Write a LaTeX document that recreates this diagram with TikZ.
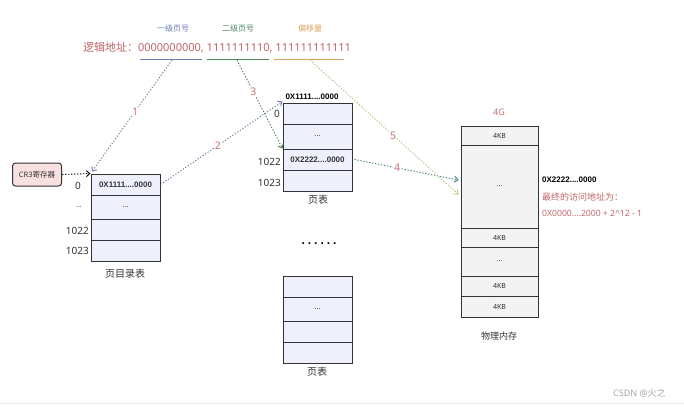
\documentclass[tikz,border=0pt]{standalone}
\usepackage{fontspec}
\setmainfont{Noto Sans}
\newfontfamily\cjk{Noto Sans CJK SC}
\newfontfamily\bsans{Liberation Sans}
\usetikzlibrary{arrows.meta}
\definecolor{addrred}{HTML}{C0666A}
\definecolor{numred}{HTML}{C87072}
\definecolor{lvlblue}{HTML}{6D80B3}
\definecolor{lvlgreen}{HTML}{4E8A5E}
\definecolor{lvlorange}{HTML}{D9A560}
\definecolor{arrblue}{HTML}{6D7FA8}
\definecolor{arrgreen}{HTML}{4A7A60}
\definecolor{arrteal}{HTML}{3F7F80}
\definecolor{arryel}{HTML}{B5C27A}
\definecolor{tblfill}{HTML}{EEF0FB}
\definecolor{memfill}{HTML}{F3F3F3}
\definecolor{cregfill}{HTML}{F9E0E0}
\definecolor{darktext}{HTML}{333333}
\begin{document}
\begin{tikzpicture}[x=1pt,y=-1pt,
  cell/.style={draw=black!80, line width=1pt, fill=tblfill, minimum width=69pt, inner sep=0pt, text=darktext, font=\fontsize{7.5}{8}\selectfont},
  memcell/.style={draw=black!80, line width=1pt, fill=memfill, minimum width=77pt, inner sep=0pt, text=darktext, font=\fontsize{7}{8}\selectfont},
  rowlbl/.style={inner sep=0pt, anchor=east, text=darktext, font=\fontsize{10}{10}\selectfont},
  caption/.style={inner sep=0pt, text=darktext, font=\fontsize{10}{10}\selectfont\cjk},
  link/.style={dash pattern=on 1.3pt off 1.7pt, line width=0.9pt, -{Straight Barb[length=3.5pt,width=6pt]}},
  num/.style={fill=white, inner sep=1pt, text=numred, font=\fontsize{10.5}{10.5}\selectfont},
  lvl/.style={inner sep=0pt, font=\fontsize{8}{8}\selectfont\cjk},
  bold/.style={font=\fontsize{8}{8}\selectfont\bsans\bfseries}
]
\useasboundingbox (0,0) rectangle (684,408);
\fill[white] (0,0) rectangle (684,408);

% header
\node[lvl, text=lvlblue] (h1) at (173,28) {一级页号};
\node[lvl, text=lvlgreen] (h2) at (238,28) {二级页号};
\node[lvl, text=lvlorange] (h3) at (310,28) {偏移量};
\node[inner sep=0pt, text=addrred, font=\fontsize{11}{11}\selectfont] (addr) at (217,48) {{\cjk 逻辑地址：}0000000000, 1111111110, 111111111111};
\draw[lvlblue, line width=1.2pt] (140,59.5) -- (202,59.5);
\draw[lvlgreen, line width=1.2pt] (207,59.5) -- (269,59.5);
\draw[lvlorange, line width=1.2pt] (274,59.5) -- (344,59.5);
\coordinate (u1) at (172,60);
\coordinate (u2) at (237,60);
\coordinate (u3) at (310,60);

% CR3
\node[draw=black!80, line width=1pt, fill=cregfill, rounded corners=3pt, minimum width=49pt, minimum height=23pt, inner sep=0pt, text=darktext, font=\fontsize{7.5}{8}\selectfont] (cr3) at (37,174.5) {CR3{\cjk 寄存器}};

% directory table
\node[cell, minimum height=21pt] (d0) at (125.5,184.5) {\fontsize{8}{8}\selectfont\bsans\bfseries 0X1111....0000};
\node[cell, minimum height=24pt] (d1) at (125.5,207) {...};
\node[cell, minimum height=21pt] (d2) at (125.5,229.5) {};
\node[cell, minimum height=21pt] (d3) at (125.5,250.5) {};
\node[rowlbl] (dl0) at (81,186) {0};
\node[rowlbl, font=\fontsize{7}{8}\selectfont] (dl1) at (82,207) {...};
\node[rowlbl] (dl2) at (89,231) {1022};
\node[rowlbl] (dl3) at (89,251) {1023};
\node[caption] (dcap) at (125,274) {页目录表};

% page table 1
\node[inner sep=0pt, text=black, bold] (phead) at (312,97) {0X1111....0000};
\node[cell, minimum height=21pt] (p0) at (317.5,113.5) {};
\node[cell, minimum height=25pt] (p1) at (317.5,136.5) {...};
\node[cell, minimum height=21pt] (p2) at (317.5,159.5) {\fontsize{8}{8}\selectfont\bsans\bfseries 0X2222....0000};
\node[cell, minimum height=21pt] (p3) at (317.5,180.5) {};
\node[rowlbl] (pl0) at (280,114) {0};
\node[rowlbl] (pl2) at (281,162) {1022};
\node[rowlbl] (pl3) at (281,183) {1023};
\node[caption] (pcap) at (318,200) {页表};

\node[inner sep=0pt, font=\fontsize{12}{12}\selectfont\bsans\bfseries\addfontfeature{LetterSpace=25}] (dots) at (319,244) {......};

% page table 2
\node[cell, minimum height=21pt] (q0) at (317.5,286.5) {};
\node[cell, minimum height=24pt] (q1) at (317.5,309) {...};
\node[cell, minimum height=21pt] (q2) at (317.5,331.5) {};
\node[cell, minimum height=21pt] (q3) at (317.5,352.5) {};
\node[caption] (qcap) at (317,372) {页表};

% memory
\node[inner sep=0pt, text=numred, font=\fontsize{9}{9}\selectfont] (g4) at (499,112) {4G};
\node[memcell, minimum height=19pt] (m0) at (499.5,135.5) {4KB};
\node[memcell, minimum height=83pt] (m1) at (499.5,186.5) {...};
\node[memcell, minimum height=19pt] (m2) at (499.5,237.5) {4KB};
\node[memcell, minimum height=29pt] (m3) at (499.5,261.5) {...};
\node[memcell, minimum height=20pt] (m4) at (499.5,286) {4KB};
\node[memcell, minimum height=21pt] (m5) at (499.5,306.5) {4KB};
\node[caption, font=\fontsize{9}{9}\selectfont\cjk] (mcap) at (499,336) {物理内存};
\node[inner sep=0pt, anchor=west, text=black, bold] (maddr) at (542,180) {0X2222....0000};
\node[inner sep=0pt, anchor=west, text=addrred, font=\fontsize{9}{9}\selectfont\cjk] (fin1) at (542,197) {最终的访问地址为：};
\node[inner sep=0pt, anchor=west, text=addrred, font=\fontsize{8.6}{9}\selectfont] (fin2) at (542,213) {0X0000....2000 + 2\^{}12 - 1};

% connectors
\draw[link, black] (cr3.east) -- (d0.north west);
\draw[link, arrblue] (u1) -- node[num, pos=0.46] {1} ([xshift=1.5pt,yshift=2pt]d0.north west);
\draw[link, arrblue] (d0.east) -- node[num, pos=0.47] {2} ([yshift=1pt]p0.north west);
\draw[link, arrgreen] (u2) -- node[num, pos=0.36] {3} (p2.north west);
\draw[link, arrteal] ([xshift=2pt]p2.east) -- node[num, pos=0.41] {4} ([xshift=-2pt,yshift=6.5pt]m1.west);
\draw[link, arryel] (u3) -- node[num, pos=0.56] {5} ([xshift=-2pt,yshift=-8pt]m1.west);

% watermark and bottom rule
\draw[black!8, line width=1pt] (0,403) -- (684,403);
\node[inner sep=0pt, anchor=west, text=black!35, font=\fontsize{9}{9}\selectfont] (wm) at (613,393) {CSDN @{\cjk 火之}};
\end{tikzpicture}
\end{document}
